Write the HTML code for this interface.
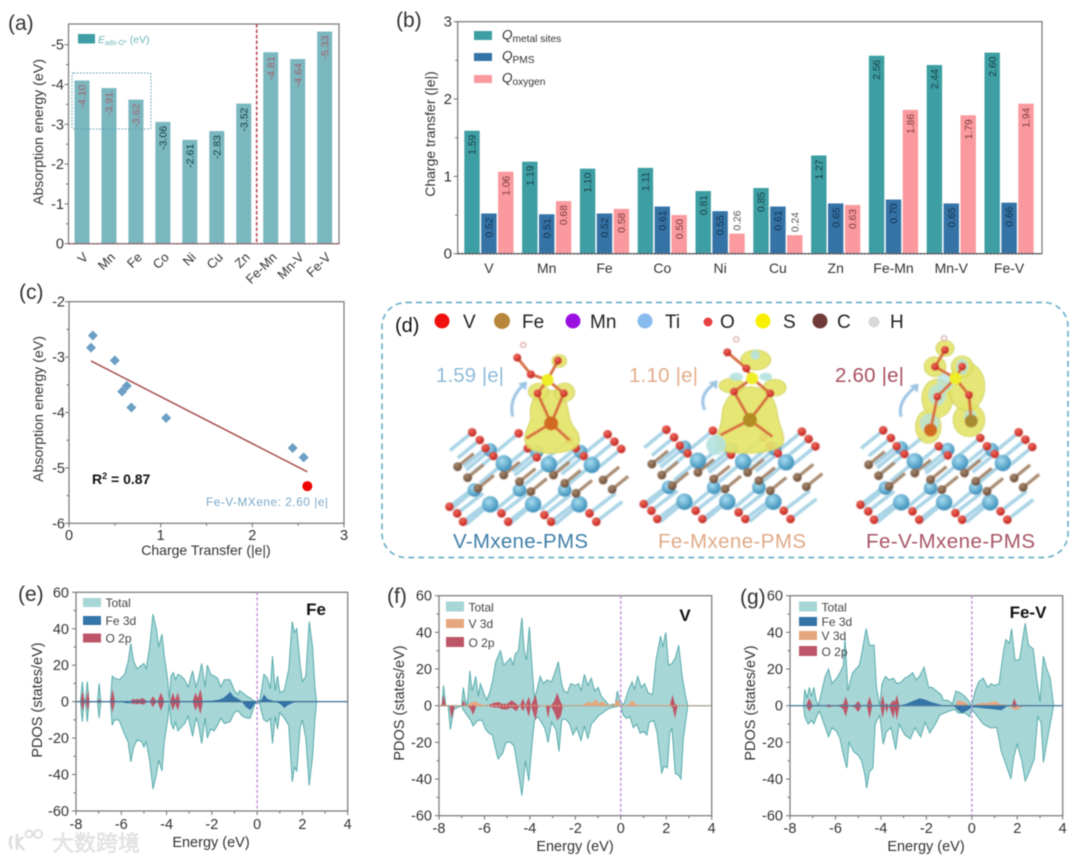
<!DOCTYPE html>
<html lang="en">
<head>
<meta charset="utf-8">
<title>MXene charge transfer and PDOS figure</title>
<style>
html,body{margin:0;padding:0;background:#fff;width:1080px;height:861px;overflow:hidden}
svg{display:block;filter:blur(0.4px)}
text{font-family:"Liberation Sans","Noto Sans CJK SC",sans-serif;fill:#333}
</style>
</head>
<body>
<svg id="fig" xmlns="http://www.w3.org/2000/svg" width="1080" height="861" viewBox="0 0 1080 861">
<defs>
<radialGradient id="tiGrad" cx="40%" cy="35%" r="65%"><stop offset="0" stop-color="#a6dcf0"/><stop offset="1" stop-color="#3c8fba"/></radialGradient>
<radialGradient id="oGrad" cx="40%" cy="35%" r="65%"><stop offset="0" stop-color="#f06a5a"/><stop offset="1" stop-color="#c0201c"/></radialGradient>
<radialGradient id="cGrad" cx="40%" cy="35%" r="65%"><stop offset="0" stop-color="#a88a70"/><stop offset="1" stop-color="#6a4a34"/></radialGradient>
<filter id="soft" x="-5%" y="-5%" width="110%" height="110%"><feGaussianBlur stdDeviation="0.4"/></filter>
</defs>

<g id="panel-a">
  <text x="8" y="30" font-size="21">(a)</text>
  <text transform="translate(43,132) rotate(-90)" text-anchor="middle" font-size="14.2">Absorption energy (eV)</text>
  <rect x="78" y="34" width="17" height="9.5" fill="#3f9ea5"/>
  <text x="98" y="43" font-size="10.5" style="fill:#6db5b8"><tspan font-style="italic">E</tspan><tspan font-size="7" dy="2">ads-O*</tspan><tspan dy="-2"> (eV)</tspan></text>
</g>

<g id="panel-b">
  <text x="396" y="27" font-size="21">(b)</text>
  <text transform="translate(435,134) rotate(-90)" text-anchor="middle" font-size="14">Charge transfer (|e|)</text>
</g>

<g id="panel-c">
  <text x="19" y="299" font-size="21">(c)</text>
  <text transform="translate(43,409) rotate(-90)" text-anchor="middle" font-size="14.2">Absorption energy (eV)</text>
  <text x="206" y="555" text-anchor="middle" font-size="14">Charge Transfer (|e|)</text>
  <text x="92" y="484" font-size="14" font-weight="bold" style="fill:#111">R<tspan font-size="9" dy="-5">2</tspan><tspan dy="5"> = 0.87</tspan></text>
  <text x="206" y="506" font-size="11.8" style="fill:#7aa8c8" textLength="122">Fe-V-MXene: 2.60 |e|</text>
</g>

<g id="panel-d">
  <rect x="382" y="302.5" width="686" height="255" rx="24" ry="24" fill="none" stroke="#6fb3c8" stroke-width="1.7" stroke-dasharray="6 4"/>
  <g id="mol" filter="url(#soft)"></g>
  <text x="395" y="332" font-size="20" style="fill:#111">(d)</text>
  <g>
    <circle cx="442" cy="321" r="7.5" fill="#f01010"/><text x="463" y="328" font-size="19" style="fill:#222">V</text>
    <circle cx="502" cy="321" r="8" fill="#b8863b"/><text x="522" y="328" font-size="19" style="fill:#222">Fe</text>
    <circle cx="573" cy="321" r="7.5" fill="#9a10e0"/><text x="590" y="328" font-size="19" style="fill:#222">Mn</text>
    <circle cx="645" cy="321" r="7.5" fill="#88bbee"/><text x="665" y="328" font-size="19" style="fill:#222">Ti</text>
    <circle cx="708" cy="322" r="4.5" fill="#e84040"/><text x="720" y="328" font-size="19" style="fill:#222">O</text>
    <circle cx="763" cy="321" r="7.5" fill="#f8f000"/><text x="783" y="328" font-size="19" style="fill:#222">S</text>
    <circle cx="820" cy="321" r="7.5" fill="#703a38"/><text x="837" y="328" font-size="19" style="fill:#222">C</text>
    <circle cx="874" cy="322" r="5.5" fill="#d8d8d8"/><text x="890" y="328" font-size="19" style="fill:#222">H</text>
  </g>
  <text x="436" y="382" font-size="20.5" style="fill:#8fbcd8" textLength="68">1.59 |e|</text>
  <text x="629" y="382" font-size="20.5" style="fill:#e3ad8a" textLength="69">1.10 |e|</text>
  <text x="835" y="382" font-size="20.5" style="fill:#a8505f" textLength="69">2.60 |e|</text>
  <text x="453" y="548" font-size="20.5" style="fill:#3f7fa8" textLength="135">V-Mxene-PMS</text>
  <text x="658" y="548" font-size="20.5" style="fill:#e0aa88" textLength="148">Fe-Mxene-PMS</text>
  <text x="866" y="548" font-size="20.5" style="fill:#a85565" textLength="169">Fe-V-Mxene-PMS</text>
</g>

<g id="panel-e">
  <text x="18" y="601" font-size="21">(e)</text>
  <text transform="translate(42,700) rotate(-90)" text-anchor="middle" font-size="14.5">PDOS (states/eV)</text>
  <text x="211" y="847" text-anchor="middle" font-size="14.5">Energy (eV)</text>
</g>
<g id="panel-f">
  <text x="387" y="603" font-size="21">(f)</text>
  <text transform="translate(404,703) rotate(-90)" text-anchor="middle" font-size="14.5">PDOS (states/eV)</text>
  <text x="575" y="851" text-anchor="middle" font-size="14.5">Energy (eV)</text>
</g>
<g id="panel-g">
  <text x="740" y="604" font-size="21">(g)</text>
  <text transform="translate(755,703) rotate(-90)" text-anchor="middle" font-size="14.5">PDOS (states/eV)</text>
  <text x="926" y="851" text-anchor="middle" font-size="14.5">Energy (eV)</text>
</g>

<g id="watermark">
  <path d="M12 836 q-4 6 0 13 M17 834 v16 M17 842 l7 8 M17 842 l6 -5" fill="none" stroke="#dedede" stroke-width="2.6"/>
  <circle cx="29" cy="834" r="3.5" fill="none" stroke="#dedede" stroke-width="2"/>
  <circle cx="38" cy="834" r="4" fill="none" stroke="#dedede" stroke-width="2"/>
  <text x="52" y="851" font-size="22" style="fill:#e6e6e6;stroke:#d6d6d6;stroke-width:.4">大数跨境</text>
</g>
</svg>

<script>
// ---------- panel (a) data ----------
const aCategories = ["V","Mn","Fe","Co","Ni","Cu","Zn","Fe-Mn","Mn-V","Fe-V"];
const aValues = [-4.10,-3.91,-3.62,-3.06,-2.61,-2.83,-3.52,-4.81,-4.64,-5.33];
const aLabels = ["-4.10","-3.91","-3.62","-3.06","-2.61","-2.83","-3.52","-4.81","-4.64","-5.33"];
const aHighlighted = [true,true,true,false,false,false,false,true,true,true];
const aYTicks = [0,-1,-2,-3,-4,-5];

// ---------- panel (b) data ----------
const bCategories = ["V","Mn","Fe","Co","Ni","Cu","Zn","Fe-Mn","Mn-V","Fe-V"];
const bMetal = [1.59,1.19,1.10,1.11,0.81,0.85,1.27,2.56,2.44,2.60];
const bPms = [0.52,0.51,0.52,0.61,0.55,0.61,0.65,0.70,0.65,0.66];
const bOxygen = [1.06,0.68,0.58,0.50,0.26,0.24,0.63,1.86,1.79,1.94];
const bYTicks = [0,1,2,3];

// ---------- panel (c) data ----------
const cCharge = [0.24,0.26,0.50,0.63,0.58,0.68,1.06,2.44,2.56];
const cEnergy = [-2.83,-2.61,-3.06,-3.52,-3.62,-3.91,-4.10,-4.64,-4.81];
const cHighlightCharge = [2.60];
const cHighlightEnergy = [-5.33];
const cFitCharge = [0.24,2.60];
const cFitEnergy = [-3.07,-5.07];
const cXTicks = [0,1,2,3];
const cYTicks = [-2,-3,-4,-5,-6];

// ---------- PDOS shared ticks ----------
const pdosXTicks = [-8,-6,-4,-2,0,2,4];
const pdosYTicks = [60,40,20,0,-20,-40,-60];

// ---------- panel (e) Fe data ----------
const eEnergy = [-7.8,-7.72,-7.65,-7.58,-7.5,-7.42,-7.05,-6.98,-6.9,-6.48,
 -6.4,-6.3,-6.1,-5.85,-5.7,-5.58,-5.45,-5.3,-5.1,-5.0,
 -4.9,-4.75,-4.6,-4.45,-4.35,-4.2,-4.1,-3.95,-3.88,-3.8,
 -3.7,-3.6,-3.5,-3.35,-3.2,-3.05,-2.85,-2.7,-2.6,-2.45,
 -2.3,-2.2,-2.05,-1.9,-1.75,-1.6,-1.45,-1.2,-1.0,-0.85,
 -0.78,-0.65,-0.45,-0.3,-0.1,0.12,0.18,0.3,0.45,0.58,
 0.68,0.8,0.9,1.0,1.2,1.4,1.55,1.65,1.75,1.9,
 2.0,2.15,2.3,2.45,2.55,2.62];
const eTotalUp = [0,11,1,1,11,0,0,10,0,0,
 14,13,12,15,22,32,22,18,20,21,
 18,30,48,40,30,37,25,12,1,14,
 16,12,15,14,12,8,17,8,12,21,
 8,20,15,14,13,8,12,12,6,4,
 6,5,3,2,0,1,5,15,13,7,
 25,6,14,5,6,18,44,38,40,20,
 11,14,44,30,8,0];
const eTotalDown = [0,-11,-1,-1,-11,0,0,-9,0,0,
 -13,-10,-10,-18,-22,-33,-25,-21,-22,-25,
 -22,-32,-48,-40,-32,-38,-22,-10,-1,-12,
 -15,-11,-16,-14,-12,-8,-19,-9,-12,-23,
 -9,-20,-15,-16,-13,-9,-12,-11,-6,-5,
 -6,-8,-9,-9,-1,-1,-5,-10,-11,-9,
 -23,-8,-15,-6,-9,-13,-44,-36,-38,-14,
 -10,-20,-46,-30,-10,0];
const eFeEnergy = [-6,-5.8,-5.5,-5.2,-2.4,-2.3,-2,-1.7,-1.5,-1.3,-1.2,-1.05,-0.9,-0.7,-0.5,-0.3,-0.2,-0.1,0.05,0.2,0.3,0.45,0.7,0.9,1.05,1.2,1.35,1.6,1.8];
const eFeValues = [0,-0.8,-0.8,0,0,0.5,0.5,1,2,4,5.5,3,2,0.5,-3,-4.5,-3,-1,0,1,4,1.5,0.5,-0.5,-1.5,-3.5,-2,-0.5,0];
const eOEnergy = [-7.8,-7.7,-7.62,-7.55,-7.47,-7.4,-7.05,-6.98,-6.9,-6.48,-6.38,-6.28,-5.6,-5.5,-5.4,-5.3,-5.2,-5.1,-5.0,-4.9,-4.75,-4.6,-4.5,-4.4,-4.25,-4.1,-3.85,-3.72,-3.62,-3.5,-3.4,-2.85,-2.72,-2.62,-2.5,-2.4];
const eOUp = [0,6,0,1,6,0,0,1.5,0,0,7,0,0,1.5,1,1.5,1,2,1.5,0.5,0,3,1,0,5,0,0,5,1,5,0,0,5,2,7,0];
const eODown = [0,-5,0,-1,-5,0,0,-1,0,0,-6,0,0,-1.5,-1,-1.5,-1,-1.5,-1.5,-0.5,0,-3,-1,0,-5,0,0,-5,-1,-5,0,0,-5,-2,-7,0];

// ---------- panel (f) V data ----------
const fUpEnergy = [-8,-7.87,-7.8,-7.7,-7.0,-6.93,-6.85,-6.75,-6.64,-6.55,
 -6.45,-6.38,-6.27,-6.18,-6,-5.9,-5.75,-5.65,-5.5,-5.3,
 -5.15,-5,-4.85,-4.75,-4.65,-4.5,-4.35,-4.25,-4.15,-4.02,
 -3.9,-3.8,-3.7,-3.55,-3.4,-3.25,-3.05,-2.9,-2.75,-2.6,
 -2.5,-2.35,-2.2,-2,-1.85,-1.75,-1.6,-1.45,-1.3,-1.15,
 -1,-0.85,-0.7,-0.5,-0.35,-0.25,-0.15,-0.05,0.1,0.2,
 0.35,0.5,0.6,0.75,0.9,1.05,1.2,1.4,1.55,1.75,
 1.85,1.98,2.1,2.25,2.4,2.55,2.7,2.85,2.95,4];
const fTotalUp = [0,0,11,0,0,10,4,0,19,8,
 12,16,5,12,6,3,8,13,24,30,
 22,24,26,22,28,30,48,30,25,43,
 20,4,8,16,12,14,13,18,24,12,
 8,7,12,11,12,8,17,11,15,8,
 10,5,3,0,1,0,8,3,0,3,
 9,13,9,16,10,12,7,6,25,38,
 32,40,22,23,26,33,16,5,0,0];
const fDownEnergy = [-8,-7.6,-7.5,-7.35,-7,-6.95,-6.6,-6.5,-6.3,-6.1,
 -5.95,-5.8,-5.65,-5.5,-5.4,-5.2,-5.05,-4.85,-4.7,-4.55,
 -4.35,-4.2,-4.05,-3.9,-3.8,-3.65,-3.45,-3.35,-3.2,-3.05,
 -2.85,-2.72,-2.6,-2.45,-2.25,-2.1,-1.95,-1.75,-1.6,-1.45,
 -1.3,-1.15,-0.95,-0.8,-0.6,-0.4,0,0.1,0.25,0.4,
 0.55,0.7,0.85,1,1.15,1.25,1.45,1.6,1.8,1.9,
 2.05,2.15,2.25,2.4,2.55,2.65,2.75,2.95,4];
const fTotalDown = [0,0,-13,-2,0,-2,-8,-11,-8,-8,
 -13,-15,-16,-24,-29,-26,-20,-20,-22,-33,
 -49,-30,-41,-20,-8,-6,-10,-12,-20,-9,
 -13,-25,-8,-7,-10,-16,-12,-19,-11,-18,
 -10,-8,-5,-4,-2,-1,0,-5,-7,-6,
 -12,-10,-15,-14,-16,-9,-8,-15,-37,-33,
 -34,-15,-12,-37,-38,-40,-18,0,0];
const fVEnergy = [-6.8,-6.6,-6.45,-6.2,-6,-5.5,-5,-2.4,-1.7,-1.45,-1.25,-1.1,-0.95,-0.8,-0.6,-0.3,-0.15,0,0.3,0.5,0.7,1,1.5,2.2,2.8];
const fVValues = [0,1.5,2.5,1,0.3,0.8,0.2,0,0.3,2,1.5,3.5,1.2,2.5,0.3,0.5,3.5,0.5,0.3,3,0.5,0.3,0.2,0.2,0];
const fOEnergy = [-7.9,-7.8,-7.7,-7.55,-7.45,-7.3,-7.0,-6.92,-6.8,-6.65,-6.5,-6.35,-5.9,-5.6,-5.4,-5.2,-5.0,-4.8,-4.6,-4.45,-4.3,-4.2,-4.05,-3.95,-3.75,-3.65,-3.55,-3.3,-3.2,-3.1,-2.95,-2.8,-2.65,-2.55,2.15,2.28,2.38,2.5];
const fOUp = [0,6,0,0,0,0,0,3,0,0,0.5,0,0,1.5,2,1,1,3,1,0,4,0,5,0,6,0,0,0,0,0,2,7,2,0,0,6,1,0];
const fODown = [0,0,0,0,-7,0,0,0,0,-1,-5,0,0,-1,-1,-2,-2,-1,-3,0,-3,0,-6,0,-8,-1,0,0,-7,0,-3,-8,-6,0,0,-1,-7,0];

// ---------- panel (g) Fe-V data ----------
const gUpEnergy = [-7.4,-7.35,-7.25,-7.15,-7.05,-6.95,-6.85,-6.75,-6.6,-6.45,
 -6.3,-6.15,-5.95,-5.8,-5.65,-5.58,-5.45,-5.25,-5.1,-4.95,
 -4.85,-4.65,-4.5,-4.3,-4.2,-4.05,-3.95,-3.8,-3.65,-3.45,
 -3.3,-3.1,-2.95,-2.8,-2.6,-2.45,-2.3,-2.1,-1.9,-1.75,
 -1.55,-1.35,-1.25,-1.05,-0.85,-0.7,-0.5,-0.3,-0.1,0,
 0.15,0.3,0.5,0.7,0.85,1,1.2,1.4,1.5,1.65,
 1.75,1.9,2.1,2.35,2.5,2.7,2.85,3,3.15,3.3,
 3.45,3.6];
const gTotalUp = [0,9,4,10,5,10,3,0,8,16,
 20,12,15,18,22,37,8,18,20,22,
 28,42,33,33,10,0,12,16,14,15,
 12,13,15,16,18,14,16,21,10,10,
 8,6,3,3,1,8,7,5,2,0,
 8,13,15,10,12,11,12,30,36,34,
 42,25,25,45,33,31,15,2,27,20,
 15,0];
const gDownEnergy = [-7.4,-7.35,-7.2,-7.05,-6.95,-6.8,-6.7,-6.5,-6.3,-6.15,
 -5.95,-5.8,-5.65,-5.5,-5.4,-5.2,-5,-4.85,-4.7,-4.63,
 -4.5,-4.35,-4.25,-4.05,-3.9,-3.75,-3.55,-3.35,-3.2,-2.95,
 -2.7,-2.5,-2.25,-2.05,-1.85,-1.6,-1.4,-1.2,-1,-0.75,
 -0.6,-0.3,-0.1,0,0.2,0.5,0.8,1.1,1.3,1.5,
 1.72,1.85,2,2.2,2.35,2.5,2.75,2.9,3.05,3.15,
 3.3,3.45,3.6];
const gTotalDown = [0,-6,-10,-8,-10,-5,-3,-10,-17,-12,
 -14,-18,-27,-34,-20,-25,-27,-30,-38,-45,
 -36,-34,-10,-5,-21,-14,-12,-24,-10,-16,
 -18,-12,-17,-9,-15,-10,-5,-4,-3,-2,
 -4,-4,-6,-2,-5,-10,-12,-12,-25,-32,
 -40,-28,-21,-30,-41,-37,-29,-6,-9,-31,
 -20,-10,0];
const gFeEnergy = [-3.2,-2.9,-2.6,-2.3,-2.1,-1.8,-1.5,-1.2,-0.8,-0.65,-0.45,-0.25,0,0.2,0.6,1,1.3,1.6];
const gFeValues = [0,1,2.5,4,3.5,2,1,0,0,-2,-4,-3,-1,-1,-1.5,-2,-2.5,0];
const gVEnergy = [-6.5,-6.2,-6,-0.75,-0.6,-0.45,-0.25,-0.1,0.1,0.4,0.7,1,1.25,1.5,1.7,1.95,2.2,2.7];
const gVValues = [0,-1,0,0,3,2.5,1.5,0,0.5,1.5,1.5,2.5,1,0.5,-1,-2.5,-0.5,0];
const gOEnergy = [-7.3,-7.15,-7,-6.5,-6.3,-6.1,-5.8,-5.65,-5.55,-5.42,-5.15,-5,-4.85,-4.62,-4.5,-4.38,-4.02,-3.92,-3.82,-3.75,-3.65,-3.45,-3.38,-3.3,-3.18,1.75,1.87,2];
const gOUp = [0,4,0,0,0.8,0,0.5,1,5,0,0.5,2.5,0,0,5,0,0,6,0,1.5,0,3,2,6,0,0,4,0];
const gODown = [0,-3,0,0,-0.8,0,-0.5,-2,-6,0,-1,-3.5,0,0,-7,0,0,-7,0,-4,0,-7,-2,-8,0,0,-1,0];

// ---------- helpers ----------
const NS = "http://www.w3.org/2000/svg";
function mk(tag, parent, attrs) {
  const e = document.createElementNS(NS, tag);
  for (const k in attrs) e.setAttribute(k, attrs[k]);
  parent.appendChild(e);
  return e;
}
function linear(d0, d1, r0, r1) {
  return v => r0 + (v - d0) * (r1 - r0) / (d1 - d0);
}
function addText(parent, x, y, str, size, anchor, color) {
  const t = mk("text", parent, {x: x, y: y, "font-size": size, "text-anchor": anchor});
  t.textContent = str;
  if (color) t.style.fill = color;
  
  
  return t;
}
function frame(parent, L, R, T, B) {
  const r = mk("rect", parent, {x: L, y: T, width: R - L, height: B - T, fill: "none", stroke: "#7f7f7f", "stroke-width": 1.3});
  
  
}
function tickLine(parent, x1, y1, x2, y2) {
  const l = mk("line", parent, {x1: x1, y1: y1, x2: x2, y2: y2, stroke: "#6f6f6f", "stroke-width": 1});
  
  
}
function areaPath(xs, ys, X, Y) {
  let d = "M" + X(xs[0]).toFixed(1) + " " + Y(0).toFixed(1);
  xs.forEach((e, i) => { d += "L" + X(e).toFixed(1) + " " + Y(ys[i]).toFixed(1); });
  d += "L" + X(xs[xs.length - 1]).toFixed(1) + " " + Y(0).toFixed(1) + "Z";
  return d;
}

// ---------- panel (a) ----------
(function () {
  const g = document.getElementById("panel-a");
  const L = 68.5, R = 339, T = 24, B = 243.7;
  const Y = linear(0, -5, B, 44.7);
  const X = i => 82 + i * 26.96;
  aCategories.forEach((c, i) => {
    const top = Y(aValues[i]);
    const bar = mk("rect", g, {x: X(i) - 7.5, y: top, width: 15, height: B - top, fill: "#7ab7bf"});
    
    
    const lab = mk("text", g, {transform: "translate(" + (X(i) + 3.7) + "," + (top + 4) + ") rotate(-90)", "text-anchor": "end", "font-size": 10.5});
    lab.textContent = aLabels[i];
    lab.style.fill = aHighlighted[i] ? "#a4606c" : "#173d44";
    
    
    const xl = mk("text", g, {transform: "translate(" + (X(i) + 7) + ",258) rotate(-45)", "text-anchor": "end", "font-size": 13});
    xl.textContent = c;
    
    
  });
  frame(g, L, R, T, B);
  aYTicks.forEach(v => {
    tickLine(g, L - 4, Y(v), L, Y(v));
    addText(g, 64, Y(v) + 5, String(v), 14.5, "end");
    if (v > -5) tickLine(g, L - 2.5, Y(v - 0.5), L, Y(v - 0.5));
  });
  const base = mk("line", g, {x1: L, x2: R, y1: B, y2: B, stroke: "#a04a58", "stroke-width": 1, "stroke-dasharray": "2 2"});
  
  
  const sep = mk("line", g, {x1: 256.7, x2: 256.7, y1: T, y2: B, stroke: "#b5404f", "stroke-width": 1.5, "stroke-dasharray": "3.5 2"});
  
  
  const box = mk("rect", g, {x: 72, y: 73, width: 79, height: 56, rx: 1.5, fill: "none", stroke: "#5f9fb2", "stroke-width": 1, "stroke-dasharray": "1.6 1.6"});
  
  
})();

// ---------- panel (b) ----------
(function () {
  const g = document.getElementById("panel-b");
  const L = 457.7, R = 1042, T = 21.7, B = 253.7;
  const Y = linear(0, 3, B, T);
  const X = i => 488.9 + i * 57.8;
  const groups = [
    {vals: bMetal, color: "#3d9ea3", off: -16.9, text: "#173f46", name: "metal-sites"},
    {vals: bPms, color: "#3573a6", off: 0, text: "#10324f", name: "pms"},
    {vals: bOxygen, color: "#fb9a9e", off: 16.9, text: "#7a3a40", name: "oxygen"}
  ];
  bCategories.forEach((c, i) => {
    groups.forEach(s => {
      const v = s.vals[i];
      const top = Y(v);
      const cx = X(i) + s.off;
      const bar = mk("rect", g, {x: cx - 7.7, y: top, width: 15.4, height: B - top, fill: s.color});
      
      
      const small = v < 0.3;
      const lab = mk("text", g, {transform: small ? "translate(" + (cx + 3.6) + "," + (top - 3) + ") rotate(-90)" : "translate(" + (cx + 3.6) + "," + (top + 4) + ") rotate(-90)", "text-anchor": small ? "start" : "end", "font-size": 10.3});
      lab.textContent = v.toFixed(2);
      lab.style.fill = small ? "#555" : s.text;
      
      
    });
    const xl = mk("text", g, {x: X(i), y: 273, "text-anchor": "middle", "font-size": 14});
    xl.textContent = c;
    
    
  });
  frame(g, L, R, T, B);
  bYTicks.forEach(v => {
    tickLine(g, L - 4, Y(v), L, Y(v));
    addText(g, 452, Y(v) + 5, String(v), 15, "end");
    if (v < 3) tickLine(g, L - 2.5, Y(v + 0.5), L, Y(v + 0.5));
  });
  const base = mk("line", g, {x1: L, x2: R, y1: B, y2: B, stroke: "#334", "stroke-width": 1, "stroke-dasharray": "2 1.5"});
  
  
  const legendRows = [["metal sites", "#3d9ea3", 31, 40], ["PMS", "#3573a6", 53, 61], ["oxygen", "#fb9a9e", 75, 83]];
  legendRows.forEach(r => {
    const sw = mk("rect", g, {x: 474, y: r[2], width: 18, height: r[3] - r[2], fill: r[1]});
    
    
    const t = mk("text", g, {x: 502, y: r[3] - 0.5, "font-size": 13.5});
    const q = mk("tspan", t, {"font-style": "italic"});
    q.textContent = "Q";
    const sub = mk("tspan", t, {"font-size": 10.2, dy: 2.5});
    sub.textContent = r[0];
    
    
  });
})();

// ---------- panel (c) ----------
(function () {
  const g = document.getElementById("panel-c");
  const L = 69, R = 344, T = 301.7, B = 523.3;
  const X = linear(0, 3, L, R);
  const Y = linear(-2, -6, T, B);
  frame(g, L, R, T, B);
  cXTicks.forEach(v => {
    tickLine(g, X(v), B, X(v), B + 4);
    addText(g, X(v), 540, String(v), 14.5, "middle");
    if (v < 3) tickLine(g, X(v + 0.5), B, X(v + 0.5), B + 2.5);
  });
  cYTicks.forEach(v => {
    tickLine(g, L - 4, Y(v), L, Y(v));
    addText(g, 65, Y(v) + 5, String(v), 14.5, "end");
    if (v > -6) tickLine(g, L - 2.5, Y(v - 0.5), L, Y(v - 0.5));
  });
  const fit = mk("line", g, {x1: X(cFitCharge[0]), y1: Y(cFitEnergy[0]), x2: X(cFitCharge[1]), y2: Y(cFitEnergy[1]), stroke: "#a85050", "stroke-width": 1.5});
  
  
  cCharge.forEach((c, i) => {
    const x = X(c), y = Y(cEnergy[i]), s = 5;
    const p = mk("polygon", g, {points: x + "," + (y - s) + " " + (x + s) + "," + y + " " + x + "," + (y + s) + " " + (x - s) + "," + y, fill: "#6c9fc4"});
    
    
  });
  cHighlightCharge.forEach((c, i) => {
    const p = mk("circle", g, {cx: X(c), cy: Y(cHighlightEnergy[i]), r: 5, fill: "#f00000"});
    
    
  });
})();

// ---------- PDOS panels ----------
function drawPdos(id, box, layers, legend, title, baseStyle) {
  const g = document.getElementById(id);
  const X = linear(-8, 4, box.L, box.R);
  const Y = linear(-60, 60, box.B, box.T);
  layers.forEach(l => {
    const p = mk("path", g, {d: areaPath(l.x, l.y, X, Y), fill: l.fill, stroke: l.stroke || "none", "stroke-width": l.stroke ? 1 : 0});
    
    
  });
  frame(g, box.L, box.R, box.T, box.B);
  const zero = mk("line", g, {x1: box.L, x2: box.R, y1: Y(0), y2: Y(0), stroke: baseStyle.color, "stroke-width": baseStyle.width, "stroke-dasharray": baseStyle.dash});
  
  
  const fermi = mk("line", g, {x1: X(0), x2: X(0), y1: box.T, y2: box.B, stroke: "#c48ad8", "stroke-width": 1.4, "stroke-dasharray": "3 2.2"});
  
  
  pdosXTicks.forEach(v => {
    tickLine(g, X(v), box.B, X(v), box.B + 4);
    addText(g, X(v), box.xTickY, String(v), 14.5, "middle");
    if (v < 4) tickLine(g, X(v + 1), box.B, X(v + 1), box.B + 2.5);
  });
  pdosYTicks.forEach(v => {
    tickLine(g, box.L - 4, Y(v), box.L, Y(v));
    addText(g, box.L - 7, Y(v) + 5, String(v), 14.5, "end");
    if (v > -60) tickLine(g, box.L - 2.5, Y(v - 10), box.L, Y(v - 10));
  });
  legend.rows.forEach(r => {
    const sw = mk("rect", g, {x: legend.x, y: r.y, width: 18, height: r.h, fill: r.fill});
    
    
    const t = addText(g, legend.x + 22.5, r.y + r.h, r.label, 12, "start", "#444");
    
  });
  const tt = mk("text", g, {x: title.x, y: title.y, "font-size": 17, "font-weight": "bold", "text-anchor": "middle"});
  tt.textContent = title.text;
  tt.style.fill = "#111";
  
  
}
const TOTAL = "#a7d6d7", TOTALS = "#5aacac", FE = "#3574a8", VV = "#e6a67e", OO = "#bd5668";
drawPdos("panel-e", {L: 76, R: 347.7, T: 592.3, B: 811, xTickY: 829},
  [{x: eEnergy, y: eTotalUp, fill: TOTAL, stroke: TOTALS, name: "total-dos-up"},
   {x: eEnergy, y: eTotalDown, fill: TOTAL, stroke: TOTALS, name: "total-dos-down"},
   {x: eFeEnergy, y: eFeValues, fill: FE, name: "fe-3d-dos"},
   {x: eOEnergy, y: eOUp, fill: OO, name: "o-2p-dos-up"},
   {x: eOEnergy, y: eODown, fill: OO, name: "o-2p-dos-down"}],
  {x: 83, rows: [{y: 598, h: 9, fill: TOTAL, label: "Total"}, {y: 616, h: 9, fill: FE, label: "Fe 3d"}, {y: 633.5, h: 9, fill: OO, label: "O 2p"}]},
  {x: 316, y: 615, text: "Fe"}, {color: "#3a6f96", width: 1.3, dash: "none"});
drawPdos("panel-f", {L: 439, R: 711.7, T: 595.7, B: 815.7, xTickY: 833},
  [{x: fUpEnergy, y: fTotalUp, fill: TOTAL, stroke: TOTALS, name: "total-dos-up"},
   {x: fDownEnergy, y: fTotalDown, fill: TOTAL, stroke: TOTALS, name: "total-dos-down"},
   {x: fVEnergy, y: fVValues, fill: VV, name: "v-3d-dos"},
   {x: fOEnergy, y: fOUp, fill: OO, name: "o-2p-dos-up"},
   {x: fOEnergy, y: fODown, fill: OO, name: "o-2p-dos-down"}],
  {x: 446, rows: [{y: 601.5, h: 10, fill: TOTAL, label: "Total"}, {y: 619, h: 9, fill: VV, label: "V 3d"}, {y: 637, h: 10, fill: OO, label: "O 2p"}]},
  {x: 685, y: 621, text: "V"}, {color: "#e6a67e", width: 1.3, dash: "2 1.5"});
drawPdos("panel-g", {L: 790, R: 1062.7, T: 595.7, B: 815.7, xTickY: 833},
  [{x: gUpEnergy, y: gTotalUp, fill: TOTAL, stroke: TOTALS, name: "total-dos-up"},
   {x: gDownEnergy, y: gTotalDown, fill: TOTAL, stroke: TOTALS, name: "total-dos-down"},
   {x: gFeEnergy, y: gFeValues, fill: FE, name: "fe-3d-dos"},
   {x: gVEnergy, y: gVValues, fill: VV, name: "v-3d-dos"},
   {x: gOEnergy, y: gOUp, fill: OO, name: "o-2p-dos-up"},
   {x: gOEnergy, y: gODown, fill: OO, name: "o-2p-dos-down"}],
  {x: 799, rows: [{y: 601.5, h: 10, fill: TOTAL, label: "Total"}, {y: 617, h: 9, fill: FE, label: "Fe 3d"}, {y: 631, h: 9, fill: VV, label: "V 3d"}, {y: 646, h: 10, fill: OO, label: "O 2p"}]},
  {x: 1028, y: 618, text: "Fe-V"}, {color: "#4f7f9f", width: 1.3, dash: "none"});

// ---------- panel (d): illustrated atomic structures (not data) ----------
(function () {
  const root = document.getElementById("mol");
  const SX = 1 / 2.214, SY = 1 / 3;
  const mx = x => 375 + x * SX;
  const my = y => 295 + y * SY;
  const tiFront = [[255,628],[350,628],[452,628],[285,505],[385,508],[480,510]];
  const tiBack = [[220,585],[320,585],[420,585],[255,465],[358,470],[455,470]];
  const carbon = [[183,515],[205,548],[228,580],[285,540],[320,560],[345,590],[395,540],[420,565],[445,595],[505,555],[525,583]];
  const oTop = [[215,412],[232,435],[245,460],[262,483],[318,415],[338,460],[358,487],[430,435],[445,460],[462,483],[515,418],[530,440],[545,462]];
  const oBot = [[165,635],[182,655],[195,680],[280,655],[295,680],[375,660],[390,680],[475,655],[490,680]];
  const structures = [
    {dx: 0, dy: 0, name: "v-mxene-pms"},
    {dx: 430, dy: -8, name: "fe-mxene-pms"},
    {dx: 910, dy: -6, name: "fe-v-mxene-pms"}
  ];
  structures.forEach(st => {
    const g = mk("g", root, {});
    
    
    const px = p => mx(p[0] + st.dx);
    const py = p => my(p[1] + st.dy);
    const all = tiFront.concat(tiBack);
    all.forEach(p => mk("line", g, {x1: px(p), y1: py(p), x2: px(p) - 24, y2: py(p) + 20, stroke: "#a9d4e6", "stroke-width": 3.6}));
    oTop.forEach(p => mk("line", g, {x1: px(p), y1: py(p), x2: px(p) - 22, y2: py(p) + 18, stroke: "#a9d4e6", "stroke-width": 3.6}));
    oBot.forEach(p => mk("line", g, {x1: px(p), y1: py(p), x2: px(p) + 26, y2: py(p) - 20, stroke: "#a9d4e6", "stroke-width": 3.6}));
    carbon.forEach(p => mk("line", g, {x1: px(p), y1: py(p), x2: px(p) + 16, y2: py(p) - 13, stroke: "#a88a70", "stroke-width": 3.2}));
    for (let i = 0; i < tiBack.length; i++) mk("circle", g, {cx: px(tiBack[i]), cy: py(tiBack[i]), r: 6.8, fill: "url(#tiGrad)"});
    for (let i = 0; i < tiFront.length; i++) mk("circle", g, {cx: px(tiFront[i]), cy: py(tiFront[i]), r: 8.2, fill: "url(#tiGrad)"});
    carbon.forEach(p => mk("circle", g, {cx: px(p), cy: py(p), r: 4.4, fill: "url(#cGrad)"}));
    oTop.forEach(p => mk("circle", g, {cx: px(p), cy: py(p), r: 4.3, fill: "url(#oGrad)"}));
    oBot.forEach(p => mk("circle", g, {cx: px(p), cy: py(p), r: 4.3, fill: "url(#oGrad)"}));
  });

  const Y1 = "#e4e46a", YS = "#c8c84a", CY = "#b4e2e0";
  const blobs = mk("g", root, {transform: "translate(375,295) scale(" + SX + "," + SY + ")"});
  
  
  mk("path", blobs, {d: "M385 285C350 290 340 330 345 370C340 400 325 420 335 450C345 478 400 482 435 465C460 450 455 420 440 395C425 370 430 320 415 300C405 288 395 285 385 285Z", fill: Y1, stroke: YS, "stroke-width": 2, opacity: .92});
  [[362,290,22,25],[420,292,22,28],[408,198,16,19]].forEach(e => mk("ellipse", blobs, {cx: e[0], cy: e[1], rx: e[2], ry: e[3], fill: Y1, stroke: YS, "stroke-width": 2, opacity: .9}));
  mk("path", blobs, {d: "M830 275C790 278 768 320 768 370C765 410 748 430 758 460C780 482 880 482 902 450C912 420 892 390 890 350C885 310 870 275 830 275Z", fill: Y1, stroke: YS, "stroke-width": 2, opacity: .92});
  [[790,272,28,22],[885,278,25,25],[843,195,33,30]].forEach(e => mk("ellipse", blobs, {cx: e[0], cy: e[1], rx: e[2], ry: e[3], fill: Y1, stroke: YS, "stroke-width": 2, opacity: .92}));
  [[755,450,22,30],[800,245,15,12],[865,245,14,12],[842,180,10,14]].forEach(e => mk("ellipse", blobs, {cx: e[0], cy: e[1], rx: e[2], ry: e[3], fill: CY, opacity: .9}));
  [[1225,395,28,50],[1315,375,35,50],[1245,310,34,58],[1310,275,40,72],[1240,215,24,30],[1262,160,20,24],[1300,215,24,32]].forEach(e => mk("ellipse", blobs, {cx: e[0], cy: e[1], rx: e[2], ry: e[3], fill: Y1, stroke: YS, "stroke-width": 2, opacity: .9}));
  [[1228,385,22,30],[1245,300,20,32],[1300,215,14,24],[1262,262,18,28],[1318,365,14,20]].forEach(e => mk("ellipse", blobs, {cx: e[0], cy: e[1], rx: e[2], ry: e[3], fill: CY, opacity: .75}));

  const ad = mk("g", root, {});
  
  
  const adBonds = [
    [[390,385],[360,295]],[[390,385],[418,295]],[[390,385],[335,430]],[[390,385],[430,435]],[[315,188],[345,238]],[[345,238],[382,255]],[[382,255],[405,197]],[[382,255],[360,295]],[[382,255],[418,295]],
    [[830,375],[795,290]],[[830,375],[875,295]],[[830,375],[765,420]],[[830,375],[880,425]],[[780,172],[822,220]],[[822,220],[835,250]],[[835,250],[795,290]],[[835,250],[875,295]],
    [[1230,405],[1245,305]],[[1320,378],[1315,300]],[[1262,165],[1240,215]],[[1240,215],[1285,250]],[[1285,250],[1300,215]],[[1285,250],[1245,305]],[[1285,250],[1315,300]]
  ];
  adBonds.forEach(b => mk("line", ad, {x1: mx(b[0][0]), y1: my(b[0][1]), x2: mx(b[1][0]), y2: my(b[1][1]), stroke: "#d66a3c", "stroke-width": 2.8}));
  [[328,150],[800,133],[1260,130]].forEach(p => mk("circle", ad, {cx: mx(p[0]), cy: my(p[1]), r: 2.5, fill: "#fff", stroke: "#d89a9a", "stroke-width": 1.2}));
  [[315,188],[345,238],[405,197],[360,295],[418,295],[780,172],[822,220],[875,295],[795,290],[1262,165],[1240,215],[1300,215],[1245,305],[1315,300]].forEach(p => mk("circle", ad, {cx: mx(p[0]), cy: my(p[1]), r: 4, fill: "url(#oGrad)"}));
  [[382,255],[835,250],[1285,250]].forEach(p => mk("circle", ad, {cx: mx(p[0]), cy: my(p[1]), r: 6, fill: "#eeee28"}));
  mk("circle", ad, {cx: mx(390), cy: my(385), r: 7, fill: "#d26a24"});
  mk("circle", ad, {cx: mx(830), cy: my(375), r: 7, fill: "#b48a24"});
  mk("circle", ad, {cx: mx(1230), cy: my(405), r: 6.5, fill: "#d26a24"});
  mk("circle", ad, {cx: mx(1320), cy: my(378), r: 6.5, fill: "#a88a30"});

  const arrows = [[305,365,295,310,330,268],[730,345,715,300,752,265],[1165,365,1155,320,1197,275]];
  arrows.forEach(a => {
    const ar = mk("path", root, {d: "M" + mx(a[0]) + " " + my(a[1]) + "Q" + mx(a[2]) + " " + my(a[3]) + " " + mx(a[4]) + " " + my(a[5]), fill: "none", stroke: "#9cc4e4", "stroke-width": 3});
    
    
    const hx = mx(a[4]), hy = my(a[5]);
    const head = mk("polygon", root, {points: (hx + 3) + "," + (hy - 3) + " " + (hx - 6) + "," + (hy - 1) + " " + (hx + 2) + "," + (hy + 6), fill: "#9cc4e4"});
    
    
  });
})();

// keep panel (d) legend and labels above the structures
(function () {
  const d = document.getElementById("panel-d");
  Array.from(d.children).filter(c => c.id !== "mol" && c.tagName !== "rect").forEach(c => d.appendChild(c));
})();
</script>
</body>
</html>
